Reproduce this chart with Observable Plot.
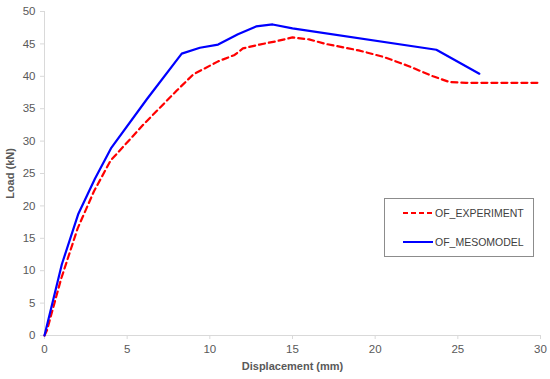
<!DOCTYPE html>
<html>
<head>
<meta charset="utf-8">
<script src="https://cdn.jsdelivr.net/npm/d3@7"></script>
<script src="https://cdn.jsdelivr.net/npm/@observablehq/plot@0.6"></script>
<style>
  html, body { margin: 0; padding: 0; background: #fff; }
  #wrap { position: relative; width: 550px; height: 379px; font-family: "Liberation Sans", Arial, sans-serif; }
  #wrap svg [aria-label="x-axis tick"] path, #wrap svg [aria-label="y-axis tick"] path { stroke: #d9d9d9; }
  #legend { position: absolute; left: 384px; top: 198px; width: 150px; height: 59px; border: 1px solid #8c8c8c; box-sizing: border-box; background: #fff; font-size: 10.5px; color: #404040; }
  .item { position: absolute; left: 18px; display: flex; align-items: center; }
  .item svg { display: block; margin-right: 2px; }
</style>
</head>
<body>
<div id="wrap"></div>
<script>
// Displacement (mm) / Load (kN)
const expDisp = [0, 0.15, 1, 2, 3, 4, 6, 8, 9, 10.5, 11.5, 12, 13, 14, 15, 16, 17, 19, 20.5, 22, 23.5, 24.5, 25.5, 30];
const expLoad = [0, 0.8, 8.7, 16.5, 22.3, 27, 32.6, 37.8, 40.3, 42.3, 43.3, 44.3, 44.9, 45.4, 46, 45.7, 45, 44, 43, 41.6, 40, 39.1, 39, 39];
const mesoDisp = [0, 1.05, 2.05, 3.05, 4.05, 6.2, 8.3, 9.4, 10.5, 11.7, 12.8, 13.8, 15, 23.7, 26.3];
const mesoLoad = [0, 11, 18.8, 24.2, 29, 36.5, 43.5, 44.4, 44.9, 46.5, 47.7, 48.0, 47.4, 44.1, 40.4];
const seriesNames = ["OF_EXPERIMENT", "OF_MESOMODEL"];
const seriesColors = ["#ff0000", "#0000ff"];
const xTicks = [0, 5, 10, 15, 20, 25, 30];
const yTicks = [0, 5, 10, 15, 20, 25, 30, 35, 40, 45, 50];

const exp = expDisp.map((d, i) => ({x: d, y: expLoad[i]}));
const meso = mesoDisp.map((d, i) => ({x: d, y: mesoLoad[i]}));

const chart = Plot.plot({
  width: 550,
  height: 379,
  marginLeft: 44,
  marginRight: 10,
  marginTop: 11,
  marginBottom: 44,
  style: { fontFamily: "Liberation Sans, Arial, sans-serif", fontSize: "11.5px", color: "#595959", background: "#fff" },
  x: { domain: [0, 30] },
  y: { domain: [0, 50] },
  marks: [
    Plot.axisX({ticks: xTicks, tickSize: 4, tickPadding: 5, label: "Displacement (mm)", labelAnchor: "center", labelArrow: "none", labelOffset: 34, fill: "#595959"}),
    Plot.axisY({ticks: yTicks, tickSize: 4, tickPadding: 5, label: "Load (kN)", labelAnchor: "center", labelArrow: "none", labelOffset: 38, fill: "#595959"}),
    Plot.ruleY([0], {stroke: "#d9d9d9", strokeWidth: 1}),
    Plot.ruleX([0], {stroke: "#d9d9d9", strokeWidth: 1}),
    Plot.line(exp, {x: "x", y: "y", stroke: seriesColors[0], strokeWidth: 2.2, strokeDasharray: "6,4"}),
    Plot.line(meso, {x: "x", y: "y", stroke: seriesColors[1], strokeWidth: 2.2})
  ]
});
document.getElementById("wrap").appendChild(chart);
// bold axis labels
chart.querySelectorAll('[aria-label="x-axis label"] text, [aria-label="y-axis label"] text').forEach(t => { t.style.fontWeight = "bold"; t.style.fontSize = "11px"; });

const legend = document.createElement("div");
legend.id = "legend";
seriesNames.forEach((name, i) => {
  const it = document.createElement("div");
  it.className = "item";
  it.style.top = (i === 0 ? 8 : 37) + "px";
  it.innerHTML = `<svg width="30" height="6"><line x1="0" y1="3" x2="30" y2="3" stroke="${seriesColors[i]}" stroke-width="2" ${i === 0 ? 'stroke-dasharray="5,3"' : ''}/></svg><span>${name}</span>`;
  legend.appendChild(it);
});
document.getElementById("wrap").appendChild(legend);
</script>
</body>
</html>
